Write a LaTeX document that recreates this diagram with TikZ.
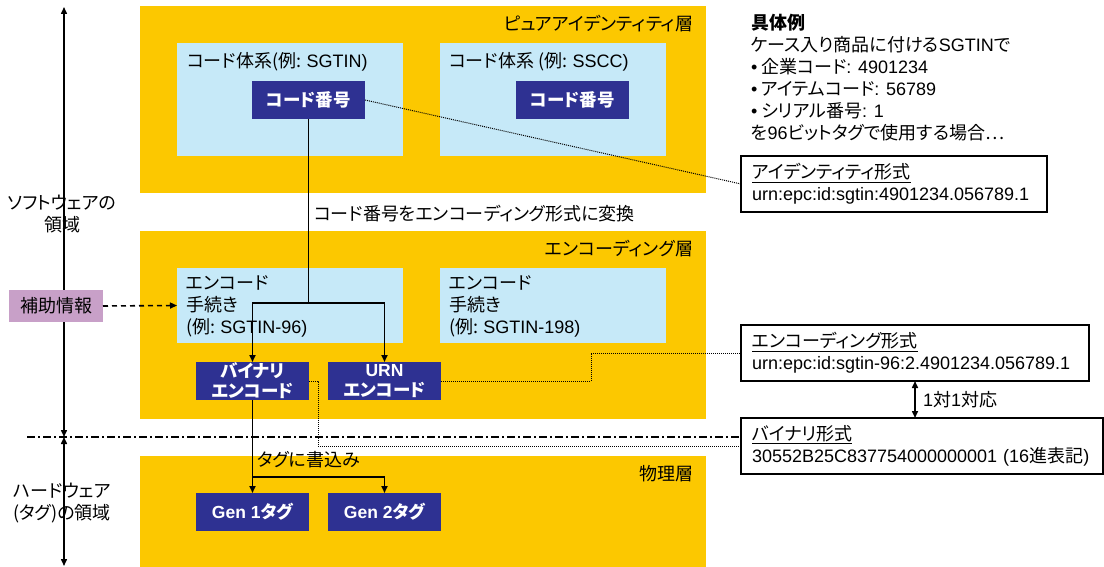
\documentclass[tikz,border=0pt]{standalone}
\usepackage{fontspec}
\setmainfont[RawFeature=+palt]{Noto Sans CJK JP}
\newfontfamily\ar{Liberation Sans}
\usetikzlibrary{arrows.meta}

\definecolor{layeryellow}{HTML}{FCC800}
\definecolor{boxblue}{HTML}{C6E9F8}
\definecolor{codenavy}{HTML}{2E3192}
\definecolor{auxpink}{HTML}{C8A0C8}

\begin{document}
\begin{tikzpicture}[x=1pt,y=-1pt,
            font=\fontsize{18}{22}\selectfont,
            >={Triangle[length=7pt,width=6pt]},
            every node/.style={inner sep=0pt,outer sep=0pt},
            layer/.style={fill=layeryellow,anchor=north west,minimum width=566},
            scheme/.style={fill=boxblue,anchor=north west,minimum width=226},
            code/.style={fill=codenavy,text=white,font=\fontsize{17.5}{20}\selectfont\bfseries,
                anchor=north west,minimum width=113,minimum height=38,align=center},
            fmt/.style={draw,line width=1.4pt,fill=white,anchor=north west,minimum height=56,
                inner xsep=11pt,align=left},
            link/.style={line width=1.6pt,->},
            dots/.style={densely dotted,line width=1pt}]

            \useasboundingbox (0,0) rectangle (1104,567);

            \foreach \n/\y/\h/\t in {pure/6/187/ピュアアイデンティティ層,enc/231/188/エンコーディング層,phys/456/111/物理層}{
                \node[layer,minimum height=\h] (\n) at (140,\y) {};
                \node[anchor=east] (\n-label) at (693,\y+18) {\t};
            }

            \coordinate (sw-top) at (64,7);
            \coordinate (split-line) at (64,437);
            \coordinate (hw-bottom) at (64,566);
            \draw[<->,line width=1.5pt] (split-line) -- (sw-top);
            \draw[<->,line width=1.5pt] (split-line) -- (hw-bottom);
            \node[align=center] (sw-label) at (62,214) {ソフトウェアの\\領域};
            \node[align=center] (hw-label) at (62,503) {ハードウェア\\(タグ)の領域};

            \node[scheme,minimum height=113] (sgtin) at (177,43) {};
            \node[scheme,minimum height=113] (sscc) at (440,43) {};
            \node[anchor=west] (sgtin-label) at (187,62) {コード体系(例: {\ar SGTIN)}};
            \node[anchor=west] (sscc-label) at (449,62) {コード体系 (例: {\ar SSCC)}};
            \node[code] (sgtin-code) at (252,81) {コード番号};
            \node[code] (sscc-code) at (516,81) {コード番号};

            \node[scheme,minimum height=75] (sgtin96) at (177,268) {};
            \node[scheme,minimum height=75] (sgtin198) at (440,268) {};
            \node[anchor=north west,align=left] (sgtin96-label) at (186,276) {エンコード\\手続き\\(例: {\ar SGTIN-96)}};
            \node[anchor=north west,align=left] (sgtin198-label) at (449,276) {エンコード\\手続き\\(例: {\ar SGTIN-198)}};
            \node[code] (bin) at (196,362) {バイナリ\\エンコード};
            \node[code] (urn) at (328,362) {{\ar URN}\\エンコード};

            \node[code] (gen1) at (196,493) {{\ar Gen 1}タグ};
            \node[code] (gen2) at (328,493) {{\ar Gen 2}タグ};

            \node[fill=auxpink,anchor=north west,minimum width=94,minimum height=32] (aux) at (9,290) {補助情報};

            \node[anchor=north west,align=left] (example) at (751,14) {\textbf{具体例}\\
                ケース入り商品に付ける{\ar SGTIN}で\\
                {\ar •} 企業コード{\ar : 4901234}\\
                {\ar •} アイテムコード{\ar : 56789}\\
                {\ar •} シリアル番号{\ar : 1}\\
                を{\ar 96}ビットタグで使用する場合…};

            \node[fmt,text width=284] (ident) at (741,156) {\underline{アイデンティティ形式}\\
                {\ar urn:epc:id:sgtin:4901234.056789.1}};
            \node[fmt,text width=326] (encfmt) at (741,325) {\underline{エンコーディング形式}\\
                {\ar urn:epc:id:sgtin-96:2.4901234.056789.1}};
            \node[fmt,text width=340] (binfmt) at (741,418) {\underline{バイナリ形式}\\
                \mbox{{\ar 30552B25C837754000000001 (16}進表記{\ar )}}};

            \coordinate (divider) at (27,437);
            \draw[dash pattern=on 8pt off 3pt on 2pt off 3pt,line width=1.4pt] (divider) -- (divider -| binfmt.west);

            \draw[line width=1.8pt] (sgtin-code.south) -- ++(0,184) coordinate (conv);
            \draw[link] (conv) -| (bin.north);
            \draw[link] (conv) -| (urn.north);
            \node[anchor=west] (conv-label) at (314,214) {コード番号をエンコーディング形式に変換};

            \draw[line width=1.6pt] (bin.south) -- ++(0,77) coordinate (write);
            \draw[link] (write) -- (gen1.north);
            \draw[link] (write) -| (gen2.north);
            \node[anchor=west] (write-label) at (257,460) {タグに書込み};

            \draw[link,dash pattern=on 5pt off 4pt] (aux.east) -- (sgtin96.west);

            \draw[dots] (sgtin-code.east) -- (ident.west);
            \draw[dots] (urn.east) -- ++(150,0) |- (encfmt.west);
            \draw[dots] (bin.east) -- ++(9,0) |- (binfmt.west);

            \draw[<->,line width=1.5pt] (encfmt.south) -- (encfmt.south |- binfmt.north)
                node[midway,right=8pt] (corr) {{\ar 1}対{\ar 1}対応};
        \end{tikzpicture}
\end{document}
